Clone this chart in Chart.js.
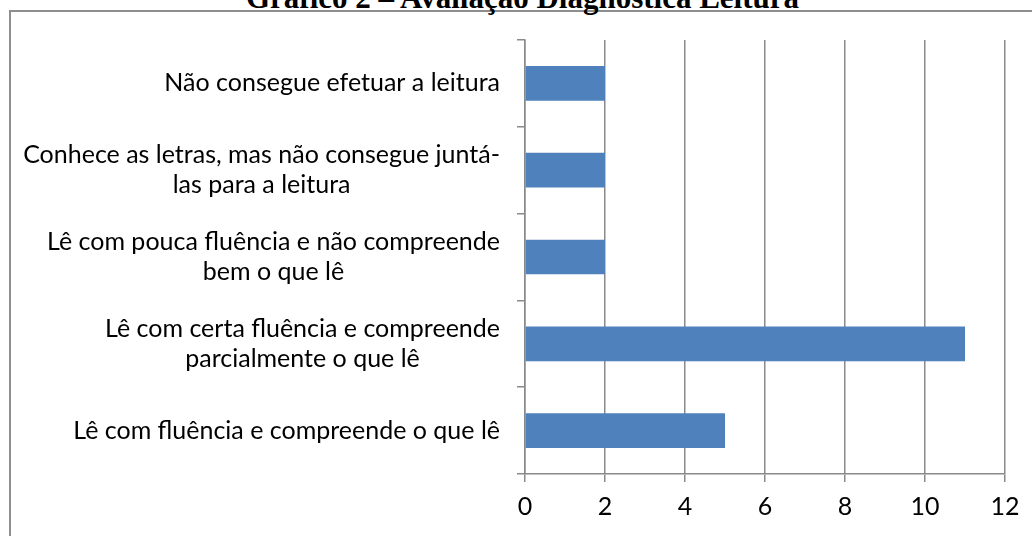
<!DOCTYPE html>
<html>
<head>
<meta charset="utf-8">
<script src="https://cdn.jsdelivr.net/npm/chart.js@4.4.1/dist/chart.umd.min.js"></script>
<style>
  html, body { margin: 0; padding: 0; background: #fff; overflow: hidden; }
  #page { position: relative; width: 1032px; height: 536px; overflow: hidden; }
  #frame {
    position: absolute; left: 9px; top: 10px; width: 1100px; height: 600px;
    border: 2px solid #8e8e8e; box-sizing: border-box;
  }
  #title {
    position: absolute; left: 246px; top: -18px; white-space: nowrap;
    font: bold 31px/31px "Liberation Serif", "Times New Roman", serif; color: #000;
  }
  #chart { position: absolute; left: 0; top: 0; }
</style>
</head>
<body>
<div id="page">
  <div id="frame"></div>
  <div id="title">Gráfico 2 – Avaliação Diagnóstica Leitura</div>
  <canvas id="chart" width="1032" height="536"></canvas>
</div>
<script>
// categories, top to bottom as they appear in the chart (already wrapped like the original)
const categories = [
  ['Não consegue efetuar a leitura'],
  ['Conhece as letras, mas não consegue juntá-', 'las para a leitura'],
  ['Lê com pouca fluência e não compreende', 'bem o que lê'],
  ['Lê com certa fluência e compreende', 'parcialmente o que lê'],
  ['Lê com fluência e compreende o que lê']
];
const values = [2, 2, 2, 11, 5];
const xTicks = [0, 2, 4, 6, 8, 10, 12];

const labelFont = '25px Lato, "Open Sans", sans-serif';
const gridColor = '#8a8a8a';

// Excel style category labels: block right aligned, lines centred within the block
const categoryLabels = {
  id: 'categoryLabels',
  afterDraw(chart) {
    const ctx = chart.ctx;
    const yScale = chart.scales.y;
    const rightEdge = yScale.right - 25;
    const lineHeight = 30;
    ctx.save();
    ctx.font = labelFont;
    ctx.fillStyle = '#000';
    ctx.textAlign = 'center';
    ctx.textBaseline = 'middle';
    categories.forEach((lines, i) => {
      const y = yScale.getPixelForTick(i);
      const maxW = Math.max(...lines.map(l => ctx.measureText(l).width));
      const cx = rightEdge - maxW / 2;
      const startY = y - (lines.length - 1) * lineHeight / 2;
      lines.forEach((l, j) => ctx.fillText(l, cx, startY + j * lineHeight));
    });
    ctx.restore();
  }
};

new Chart(document.getElementById('chart'), {
  type: 'bar',
  data: {
    labels: categories,
    datasets: [{
      label: 'Avaliação Diagnóstica Leitura',
      data: values,
      backgroundColor: '#4F81BD',
      borderWidth: 0,
      barPercentage: 0.4,
      categoryPercentage: 1.0
    }]
  },
  options: {
    indexAxis: 'y',
    responsive: false,
    animation: false,
    layout: { padding: { left: 0, top: 40, right: 27, bottom: 0 } },
    plugins: {
      legend: { display: false },
      tooltip: { enabled: false }
    },
    scales: {
      x: {
        min: 0,
        max: 12,
        afterBuildTicks: (scale) => { scale.ticks = xTicks.map(v => ({ value: v })); },
        afterFit: (scale) => { scale.height = 62; },
        ticks: {
          color: '#000',
          font: { family: 'Lato, "Open Sans", sans-serif', size: 25 },
          padding: 10
        },
        grid: {
          color: gridColor,
          lineWidth: 1.5,
          drawTicks: true,
          tickLength: 8,
          tickColor: gridColor
        },
        border: { display: true, color: gridColor, width: 1.5 }
      },
      y: {
        afterFit: (scale) => { scale.width = 525; },
        ticks: {
          color: 'rgba(0,0,0,0)',
          callback: () => ''
        },
        grid: {
          drawOnChartArea: false,
          drawTicks: true,
          tickLength: 8,
          tickColor: gridColor,
          lineWidth: 1.5,
          offset: true
        },
        border: { display: true, color: gridColor, width: 1.5 }
      }
    }
  },
  plugins: [categoryLabels]
});
</script>
</body>
</html>
